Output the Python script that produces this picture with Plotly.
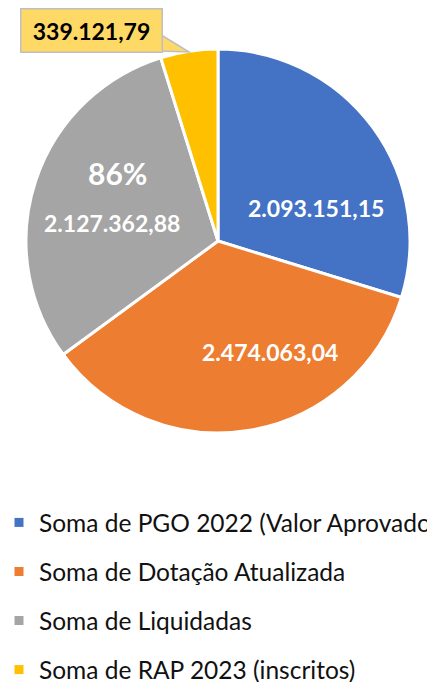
import plotly.graph_objects as go

labels = ["Soma de PGO 2022 (Valor Aprovado)", "Soma de Dotação Atualizada",
          "Soma de Liquidadas", "Soma de RAP 2023 (inscritos)"]
values = [2093151.15, 2474063.04, 2127362.88, 339121.79]
value_text = ["2.093.151,15", "2.474.063,04", "2.127.362,88", "339.121,79"]
colors = ["#4472C4", "#ED7D31", "#A5A5A5", "#FFC000"]
extra_label = "86%"

W, H = 427, 682
def px(x): return x / W
def py(y): return 1 - y / H

FONT = "Lato"

fig = go.Figure()
fig.add_trace(go.Pie(
    labels=labels, values=values, sort=False, direction="clockwise", rotation=0,
    marker=dict(colors=colors, line=dict(color="white", width=3)),
    textinfo="none", hoverinfo="label+value", showlegend=False,
    domain=dict(x=[px(26), px(410)], y=[py(433), py(49)]),
))
for lab, col in zip(labels, colors):
    fig.add_trace(go.Scatter(x=[None], y=[None], mode="markers", name=lab,
                             legendgroup=lab,
                             marker=dict(symbol="square", size=9, color=col)))

ann = []
white = dict(family=FONT, size=23, color="white")
ann.append(dict(x=px(316), y=py(208), text="<b>%s</b>" % value_text[0], font=white))
ann.append(dict(x=px(270), y=py(352), text="<b>%s</b>" % value_text[1], font=white))
ann.append(dict(x=px(112), y=py(223), text="<b>%s</b>" % value_text[2], font=white))
ann.append(dict(x=px(118), y=py(173), text="<b>%s</b>" % extra_label,
                font=dict(family=FONT, size=30, color="white")))
ann.append(dict(x=px(91), y=py(30.5), text="<b>%s</b>" % value_text[3],
                font=dict(family=FONT, size=23, color="black"),
                bgcolor="#FFD966", bordercolor="#BFBFBF", borderwidth=1.5,
                borderpad=3, width=134, height=36))
for a in ann:
    a.update(xref="paper", yref="paper", showarrow=False, xanchor="center", yanchor="middle")

fig.add_shape(type="path", xref="paper", yref="paper",
              path="M %f %f L %f %f L %f %f Z" % (px(158), py(33), px(189), py(52), px(158), py(51)),
              fillcolor="#FFD966", line=dict(color="#BFBFBF", width=1.5), layer="above")

fig.update_layout(
    width=W, height=H, margin=dict(l=0, r=0, t=0, b=0, autoexpand=False),
    paper_bgcolor="white", plot_bgcolor="white",
    xaxis=dict(visible=False), yaxis=dict(visible=False),
    annotations=ann,
    legend=dict(x=px(-1), y=py(500), xanchor="left", yanchor="top",
                font=dict(family=FONT, size=24.5, color="#111111"),
                tracegroupgap=14.2, traceorder="grouped", itemwidth=30,
                bgcolor="rgba(0,0,0,0)"),
    showlegend=True,
)
fig.write_html("out.html", config={"displayModeBar": False},
               post_script="document.body.style.margin='0';document.body.style.overflow='hidden';")
